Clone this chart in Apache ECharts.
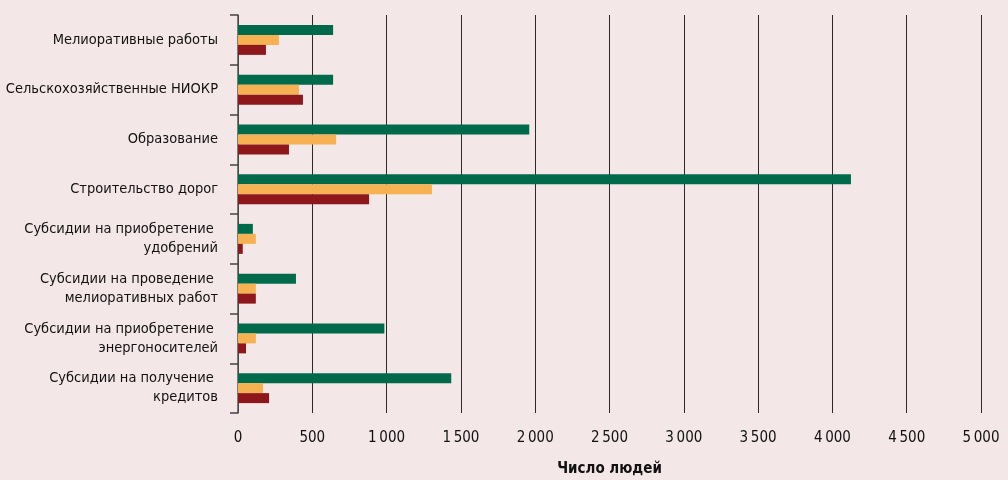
<!DOCTYPE html>
<html>
<head>
<meta charset="utf-8">
<script src="https://cdn.jsdelivr.net/npm/echarts@6/dist/echarts.min.js"></script>
<style>
  html, body { margin: 0; padding: 0; background: #f3e7e7; }
  #chart { width: 1008px; height: 480px; }
</style>
</head>
<body>
<div id="chart"></div>
<script>
// категории (сверху вниз)
var categories = [
  'Мелиоративные работы',
  'Сельскохозяйственные НИОКР',
  'Образование',
  'Строительство дорог',
  'Субсидии на приобретение \nудобрений',
  'Субсидии на проведение \nмелиоративных работ',
  'Субсидии на приобретение \nэнергоносителей',
  'Субсидии на получение \nкредитов'
];

// три ряда
var greenValues = [640, 640, 1960, 4125, 100, 390, 985, 1435];
var orangeValues = [275, 410, 660, 1305, 120, 120, 120, 168];
var redValues = [188, 437, 343, 882, 32, 120, 54, 209];

var xTicks = { min: 0, max: 5000, interval: 500 };

var chart = echarts.init(document.getElementById('chart'));

function fmt(v) {
  return String(v).replace(/\B(?=(\d{3})+(?!\d))/g, '\u2009');
}

var font = "'Liberation Sans Narrow', 'DejaVu Sans Condensed', sans-serif";

chart.setOption({
  backgroundColor: '#f3e7e7',
  animation: false,
  grid: { left: 238, right: 27, top: 15, bottom: 67, outerBoundsMode: 'none' },
  xAxis: {
    type: 'value',
    min: xTicks.min,
    max: xTicks.max,
    interval: xTicks.interval,
    name: 'Число людей',
    nameLocation: 'middle',
    nameGap: 49,
    nameTextStyle: { fontFamily: font, fontWeight: 'bold', fontSize: 15, color: '#111' },
    axisLine: { show: false },
    axisTick: { show: false },
    axisLabel: { formatter: fmt, fontFamily: font, fontSize: 15, color: '#111', margin: 18 },
    splitLine: { show: true, lineStyle: { color: '#2a2a2a', width: 1 } }
  },
  yAxis: {
    type: 'category',
    data: categories,
    inverse: true,
    axisLine: { lineStyle: { color: '#555', width: 1.5 } },
    axisTick: { show: true, length: 8, lineStyle: { color: '#444', width: 1.5 } },
    axisLabel: { fontFamily: font, fontSize: 14.5, color: '#111', margin: 20, lineHeight: 19, align: 'right' }
  },
  series: [
    { type: 'bar', data: greenValues, barWidth: 10, barGap: 0, itemStyle: { color: '#006a4b' } },
    { type: 'bar', data: orangeValues, barWidth: 10, barGap: 0, itemStyle: { color: '#f6b152' } },
    { type: 'bar', data: redValues, barWidth: 10, barGap: 0, itemStyle: { color: '#8e171c' } }
  ]
});
</script>
</body>
</html>
